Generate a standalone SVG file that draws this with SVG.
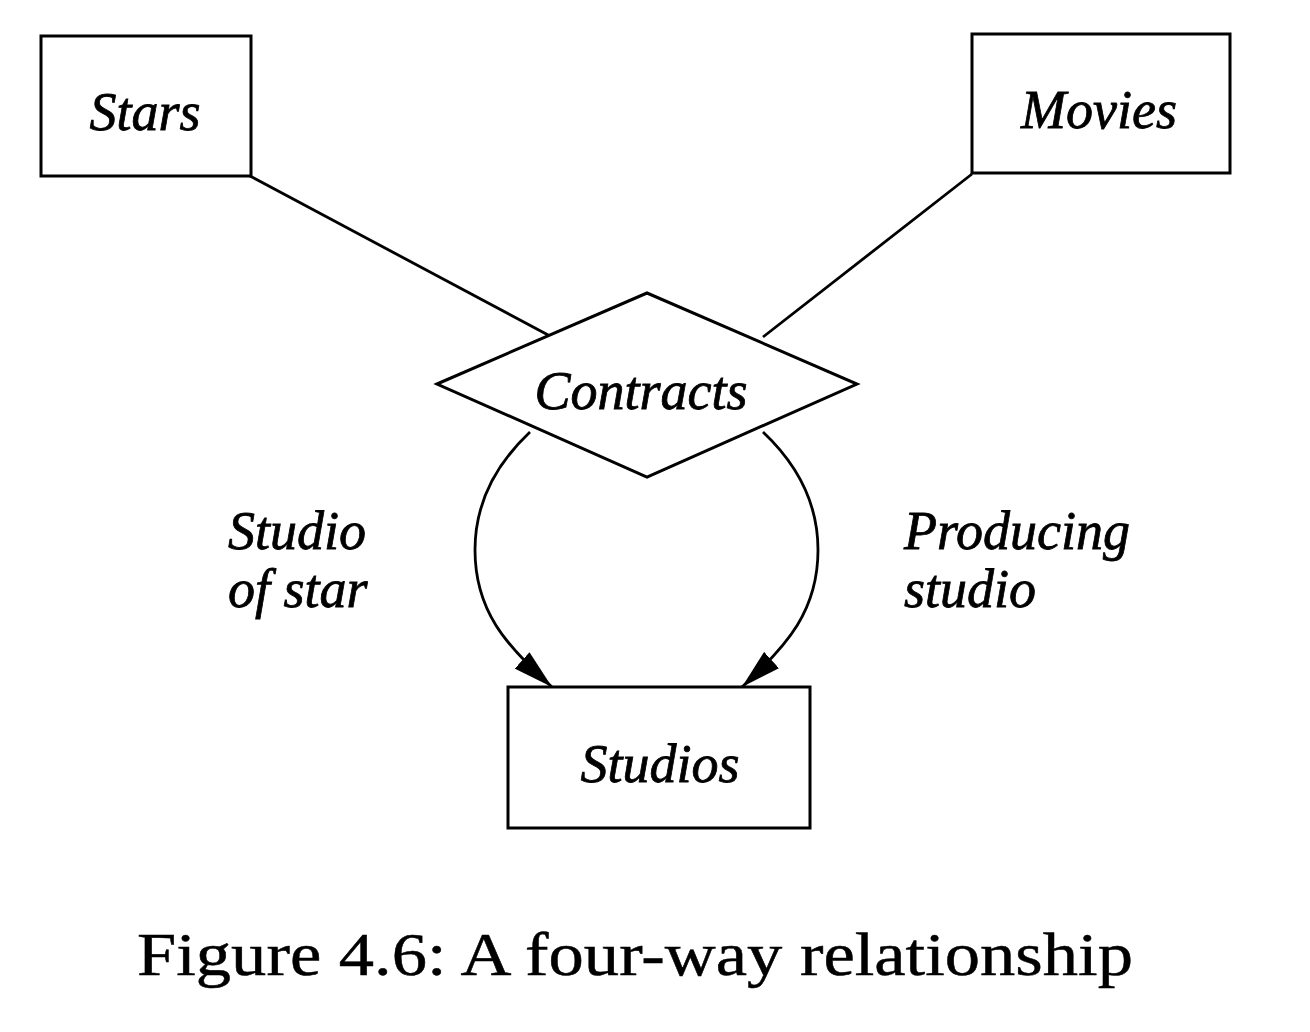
<svg xmlns="http://www.w3.org/2000/svg" width="1310" height="1032" viewBox="0 0 1310 1032">
<style>
.box{fill:#fff;stroke:#000;stroke-width:3}
.lbl{font-family:"Liberation Serif","Times New Roman",serif;font-style:italic;font-size:54px;fill:#000;stroke:#000;stroke-width:0.8}
.conn{fill:none;stroke:#000;stroke-width:2.8}
.cap{font-family:"Liberation Serif","Times New Roman",serif;font-size:62px;fill:#000;stroke:#000;stroke-width:0.5}
</style>
<defs>
<marker id="arr" markerUnits="userSpaceOnUse" markerWidth="40" markerHeight="22" refX="40" refY="11" orient="auto">
<path d="M0,0 L40,11 L0,22 z" fill="#000"/>
</marker>
</defs>
<rect width="1310" height="1032" fill="#fff"/>
<g id="connectors">
<line class="conn" x1="250" y1="176" x2="550" y2="336"/>
<line class="conn" x1="972" y1="174" x2="763" y2="337"/>
<path class="conn" d="M530,432 C495,465 475,505 475,550 C475,610 505,645 552,687" marker-end="url(#arr)"/>
<path class="conn" d="M763,432 C798,465 818,505 818,550 C818,610 788,645 742,687" marker-end="url(#arr)"/>
</g>
<g id="stars">
<rect class="box" x="41" y="36" width="210" height="140"/>
<text class="lbl" x="145" y="130" text-anchor="middle">Stars</text>
</g>
<g id="movies">
<rect class="box" x="972" y="34" width="258" height="139"/>
<text class="lbl" x="1099" y="128" text-anchor="middle">Movies</text>
</g>
<g id="contracts">
<polygon class="box" points="437,384 647,293 857,384 647,477"/>
<text class="lbl" x="641" y="409" text-anchor="middle">Contracts</text>
</g>
<g id="studios">
<rect class="box" x="508" y="687" width="302" height="141"/>
<text class="lbl" x="660" y="782" text-anchor="middle">Studios</text>
</g>
<g id="label-studio-of-star">
<text class="lbl" x="228" y="549">Studio</text>
<text class="lbl" x="228" y="607">of star</text>
</g>
<g id="label-producing-studio">
<text class="lbl" x="904" y="549">Producing</text>
<text class="lbl" x="904" y="607">studio</text>
</g>
<text class="cap" x="137" y="975" textLength="996" lengthAdjust="spacingAndGlyphs">Figure 4.6: A four-way relationship</text>
</svg>
